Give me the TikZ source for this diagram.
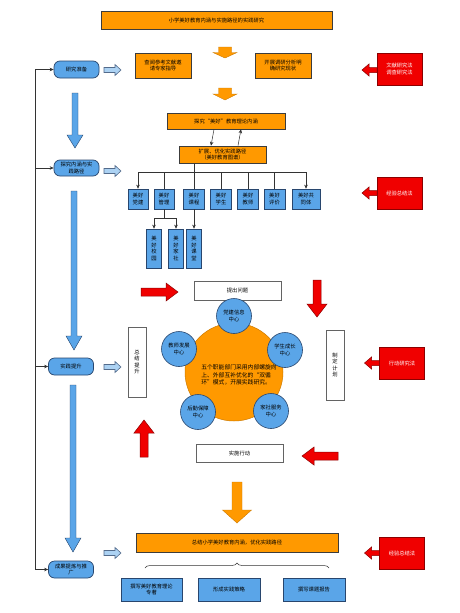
\documentclass[tikz,border=0pt]{standalone}
\usepackage{fontspec}
\newfontfamily\cjk{Noto Sans CJK SC}
\usetikzlibrary{arrows.meta,decorations.pathreplacing}
\definecolor{orng}{RGB}{255,153,0}
\definecolor{bluef}{RGB}{90,165,232}
\definecolor{blued}{RGB}{40,70,110}
\definecolor{redf}{RGB}{240,0,0}
\definecolor{redd}{RGB}{140,0,0}
\definecolor{edge}{RGB}{60,60,60}
\newcommand\blkarrow[8]{%
  \draw[#1, shift={(#2,#3)}, rotate=#4] (0,-#6) -- (#5-#8,-#6) -- (#5-#8,-#7) -- (#5,0) -- (#5-#8,#7) -- (#5-#8,#6) -- (0,#6) -- cycle;}
\tikzset{
  txt/.style={font=\cjk\fontsize{5.3}{6.6}\selectfont, align=center, inner sep=0pt},
  obox/.style={txt, draw=edge, line width=0.6pt, fill=orng, minimum width=#1},
  bbox/.style={txt, draw=blued, line width=0.6pt, fill=bluef},
  rbox/.style={txt, draw=redd, line width=0.6pt, fill=redf, text=white, minimum width=45pt, minimum height=32pt},
  wbox/.style={txt, draw=edge!80, line width=0.5pt, fill=white},
  lbox/.style={txt, draw=blued, line width=0.7pt, fill=bluef, rounded corners=6pt, minimum width=45pt, minimum height=17pt},
  circ/.style={txt, circle, draw=blued, line width=0.6pt, fill=bluef, minimum size=35pt},
  conn/.style={draw=black!80, line width=0.5pt, -{Stealth[length=4pt,width=3.5pt]}},
  plain/.style={draw=black!80, line width=0.5pt},
  oarr/.style={fill=orng, draw=orng!80!black, line width=0.4pt},
  barr/.style={fill=bluef, draw=blued, line width=0.4pt},
  harr/.style={fill=bluef!50, draw=blued!80, line width=0.6pt},
  rarr/.style={fill=redf, draw=redd, line width=0.5pt},
}
\begin{document}
\begin{tikzpicture}[x=1pt,y=-1pt]
\useasboundingbox[fill=white] (0,0) rectangle (460,613);

% title and top
\node[obox=231pt, minimum height=18pt] (title) at (216.5,20) {小学美好教育内涵与实施路径的实践研究};
\blkarrow{oarr}{225}{47}{-90}{11}{6.5}{12}{5.5}
\node[obox=56pt, minimum height=25pt] (lit) at (163,65.5) {查阅参考文献邀\\请专家指导};
\node[obox=56pt, minimum height=25pt] (survey) at (283,65.5) {开展调研分析明\\确研究现状};
\blkarrow{oarr}{225}{88}{-90}{12}{6.5}{12}{6}
\node[obox=118pt, minimum height=16pt] (theory) at (226,121) {探究“美好”教育理论内涵};
\node[obox=87pt, minimum height=17pt] (expand) at (222.5,154.5) {扩展、优化实践路径\\（美好教育图谱）};
\draw[conn] ([xshift=-12pt]theory.south) -- ([xshift=-11.5pt]expand.north);
\draw[conn] ([xshift=15.5pt]expand.north) -- ([xshift=15pt]theory.south);

% red method boxes
\node[rbox] (red1) at (399.5,69) {文献研究法\\调查研究法};
\blkarrow{rarr}{377}{70}{180}{15}{2.5}{6}{7}
\node[rbox] (red2) at (399.5,193) {经验总结法};
\blkarrow{rarr}{377}{193}{180}{15}{2.5}{6}{7}
\node[rbox] (red3) at (402,363) {行动研究法};
\blkarrow{rarr}{379.5}{363}{180}{15}{2.5}{6}{7}
\node[rbox] (red4) at (402,553) {经验总结法};
\blkarrow{rarr}{379.5}{553}{180}{15}{2.5}{6}{7}

% left column
\node[lbox] (prep) at (76.5,69.5) {研究准备};
\node[lbox, minimum height=16pt] (explore) at (76.5,168) {探究内涵与实\\践路径};
\node[lbox] (practice) at (71,366.5) {实践提升};
\node[lbox] (result) at (71,569.5) {成果提炼与推\\广};
\coordinate (lt) at (35,69.5);
\coordinate (l2) at (35,168);
\coordinate (l3) at (35,366.5);
\coordinate (lb) at (35,569.5);
\draw[conn] (lb) -- (lt) -- (prep.west);
\draw[conn] (l2) -- (explore.west);
\draw[conn] (l3) -- (practice.west);
\draw[conn] (lb) -- (result.west);
\blkarrow{barr}{75}{93}{-90}{55}{3}{8}{13}
\blkarrow{barr}{74}{191}{-90}{159}{3}{8}{14}
\blkarrow{barr}{73}{385}{-90}{167}{3}{8}{14}
\blkarrow{harr}{104}{70}{0}{17}{2.5}{5.5}{6}
\blkarrow{harr}{104}{171}{0}{17}{2.5}{5.5}{6}
\blkarrow{harr}{104}{367}{0}{17}{2.5}{5.5}{6}
\blkarrow{harr}{104}{553}{0}{17}{2.5}{5.5}{6}

% tree of blue boxes
\node[bbox, minimum width=20pt, minimum height=20pt] (b1) at (138,199) {美好\\党建};
\node[bbox, minimum width=20pt, minimum height=20pt] (b2) at (164,199) {美好\\管理};
\node[bbox, minimum width=21pt, minimum height=20pt] (b3) at (194,199) {美好\\课程};
\node[bbox, minimum width=21pt, minimum height=20pt] (b4) at (221,199) {美好\\学生};
\node[bbox, minimum width=21pt, minimum height=20pt] (b5) at (248,199) {美好\\教师};
\node[bbox, minimum width=21pt, minimum height=20pt] (b6) at (274.5,199) {美好\\评价};
\node[bbox, minimum width=28pt, minimum height=20pt] (b7) at (306,199) {美好共\\同体};
\coordinate (bus) at (194,172);
\draw[plain] (expand.south -| bus) -- (bus);
\draw[plain] (b1.north |- bus) -- (b7.north |- bus);
\draw[conn] (b1.north |- bus) -- (b1.north);
\draw[plain] (b2.north |- bus) -- (b2.north);
\draw[plain] (b3.north |- bus) -- (b3.north);
\draw[plain] (b4.north |- bus) -- (b4.north);
\draw[plain] (b5.north |- bus) -- (b5.north);
\draw[plain] (b6.north |- bus) -- (b6.north);
\draw[conn] (b7.north |- bus) -- (b7.north);
\node[bbox, minimum width=15pt, minimum height=39pt] (s1) at (154,248.5) {美\\好\\校\\园};
\node[bbox, minimum width=15pt, minimum height=39pt] (s2) at (176,248.5) {美\\好\\家\\社};
\node[bbox, minimum width=15pt, minimum height=39pt] (s3) at (194,248.5) {美\\好\\课\\堂};
\coordinate (sb) at (164,218);
\draw[plain] (b2.south) -- (sb);
\draw[conn] (sb) -| (s1.north);
\draw[conn] (sb) -| (s2.north);
\draw[conn] (b3.south) -- (s3.north);

% cycle
\node[wbox, minimum width=87pt, minimum height=19pt] (ask) at (237.5,290.5) {提出问题};
\node[wbox, minimum width=18pt, minimum height=70pt] (plan) at (335,365) {制\\定\\计\\划};
\node[wbox, minimum width=87pt, minimum height=18pt] (act) at (239.5,453) {实施行动};
\node[wbox, minimum width=18pt, minimum height=70pt] (summ) at (137,362) {总\\结\\提\\升};
\blkarrow{rarr}{141}{292}{0}{37}{4}{9}{12}
\blkarrow{rarr}{317}{280}{-90}{37}{4}{10}{13}
\blkarrow{rarr}{338}{456}{180}{36}{4}{9}{12}
\blkarrow{rarr}{144}{457}{90}{37}{4}{10}{13}
\node[txt, circle, draw=orng!80!black, line width=0.5pt, fill=orng, minimum size=98pt] (core) at (234,372) {};
\node[txt, font=\cjk\fontsize{5.8}{7.4}\selectfont, align=left] (coretxt) at (239,375) {五个职能部门采用内部螺旋向\\上、外部互补优化的“双循\\环”模式，开展实践研究。};
\node[circ] (c1) at (234,316) {党建信息\\中心};
\node[circ] (c2) at (285,350) {学生成长\\中心};
\node[circ] (c3) at (271,411) {家社服务\\中心};
\node[circ] (c4) at (198,412) {后勤保障\\中心};
\node[circ] (c5) at (179,349) {教师发展\\中心};

% bottom
\blkarrow{oarr}{237}{482}{-90}{41}{5}{14.5}{13}
\node[obox=202pt, minimum height=19pt] (final) at (237,542.5) {总结小学美好教育内涵，优化实践路径};
\coordinate (brl) at (145,568);
\coordinate (brr) at (329,568);
\draw[plain, decorate, decoration={brace, amplitude=5pt}] (brl) -- (brr);
\node[bbox, minimum width=61pt, minimum height=23pt] (o1) at (151.5,589.5) {撰写美好教育理论\\专著};
\node[bbox, minimum width=62pt, minimum height=23pt] (o2) at (229,589.5) {形成实践策略};
\node[bbox, minimum width=62pt, minimum height=23pt] (o3) at (314,589.5) {撰写课题报告};
\end{tikzpicture}
\end{document}
